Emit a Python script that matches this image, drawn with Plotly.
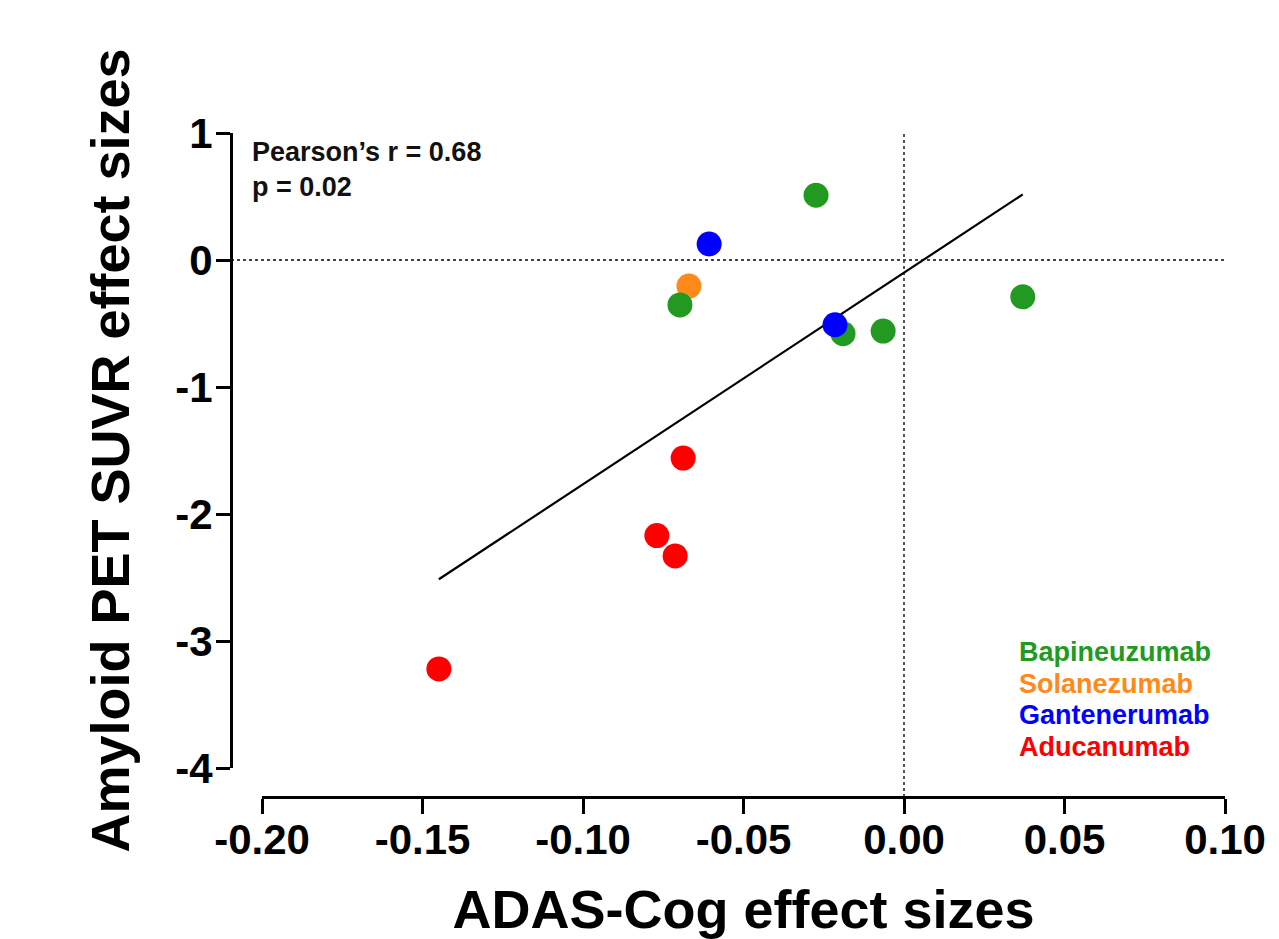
import numpy as np
import plotly.graph_objects as go

# ---- data ----
groups = ["Solanezumab", "Bapineuzumab", "Gantenerumab", "Aducanumab"]
legend_order = ["Bapineuzumab", "Solanezumab", "Gantenerumab", "Aducanumab"]
colors = {
    "Bapineuzumab": "#229a22",
    "Solanezumab": "#ff8a1a",
    "Gantenerumab": "#0000ff",
    "Aducanumab": "#ff0000",
}
bapi_x = [-0.0274, -0.0698, -0.0190, -0.0065, 0.0370]
bapi_y = [0.51, -0.354, -0.58, -0.56, -0.29]
sola_x = [-0.0670]
sola_y = [-0.205]
gant_x = [-0.0607, -0.0215]
gant_y = [0.126, -0.51]
aduc_x = [-0.0688, -0.0770, -0.0713, -0.1449]
aduc_y = [-1.56, -2.17, -2.33, -3.22]

series = {
    "Solanezumab": (sola_x, sola_y),
    "Bapineuzumab": (bapi_x, bapi_y),
    "Gantenerumab": (gant_x, gant_y),
    "Aducanumab": (aduc_x, aduc_y),
}

x_ticks = [-0.20, -0.15, -0.10, -0.05, 0.00, 0.05, 0.10]
x_ticklabels = ["-0.20", "-0.15", "-0.10", "-0.05", "0.00", "0.05", "0.10"]
y_ticks = [-4, -3, -2, -1, 0, 1]
y_ticklabels = ["-4", "-3", "-2", "-1", "0", "1"]

stat_lines = ["Pearson\u2019s r = 0.68", "p = 0.02"]

x_title = "ADAS-Cog effect sizes"
y_title = "Amyloid PET SUVR effect sizes"

# ---- regression line from the data ----
all_x = np.array(sum([series[g][0] for g in groups], []))
all_y = np.array(sum([series[g][1] for g in groups], []))
slope, intercept = np.polyfit(all_x, all_y, 1)
fit_x = np.array([all_x.min(), all_x.max()])
fit_y = slope * fit_x + intercept

FONT = "Liberation Sans, Arial, sans-serif"

fig = go.Figure()

fig.add_trace(go.Scatter(
    x=fit_x, y=fit_y, mode="lines",
    line=dict(color="black", width=2.2),
    showlegend=False, hoverinfo="skip",
))

for g in groups:
    xs, ys = series[g]
    fig.add_trace(go.Scatter(
        x=xs, y=ys, mode="markers", name=g,
        marker=dict(size=25, color=colors[g], line=dict(width=0)),
        showlegend=False,
    ))

# dotted zero lines
fig.add_shape(type="line", xref="paper", yref="y", x0=0, x1=1, y0=0, y1=0,
              line=dict(color="#444444", width=1.8, dash="dot"), layer="below")
fig.add_shape(type="line", xref="x", yref="paper", x0=0, x1=0, y0=0, y1=1,
              line=dict(color="#444444", width=1.8, dash="dot"), layer="below")

# page offset of the plot (browser body margin is 8px)
OFF = 8
W, H = 1271, 931
L, T = 231 - OFF, 133 - OFF
R = W - (1225 - OFF)
B = H - (797 - OFF)
pw = W - L - R
ph = H - T - B

# stats text
stat_px = [152, 187]
for txt, py in zip(stat_lines, stat_px):
    fig.add_annotation(
        text=txt, xref="paper", yref="paper", x=(250 - 231) / pw,
        y=(797 - py) / ph,
        xanchor="left", yanchor="middle", showarrow=False,
        font=dict(family=FONT, size=27, color="#111111", weight="bold"),
    )

# colored text legend
for i, g in enumerate(legend_order):
    py = 652 + i * 31.7
    fig.add_annotation(
        text=g, xref="paper", yref="paper", x=(1017 - 231) / pw,
        y=(797 - py) / ph,
        xanchor="left", yanchor="middle", showarrow=False,
        font=dict(family=FONT, size=27, color=colors[g], weight="bold"),
    )

fig.update_layout(
    width=W, height=H,
    margin=dict(l=L, r=R, t=T, b=B, autoexpand=False),
    paper_bgcolor="white", plot_bgcolor="white",
    showlegend=False,
    xaxis=dict(
        range=[-0.20, 0.10], domain=[(262 - 231) / pw, 1],
        anchor="free", position=0,
        tickvals=x_ticks, ticktext=x_ticklabels,
        showline=True, linecolor="black", linewidth=3,
        ticks="outside", ticklen=15, tickwidth=3, tickcolor="black",
        ticklabelstandoff=-10,
        showgrid=False, zeroline=False,
        tickfont=dict(family=FONT, size=42, color="black", weight="bold"),
        title=dict(text=x_title, standoff=30,
                   font=dict(family=FONT, size=54, color="black", weight="bold")),
    ),
    yaxis=dict(
        range=[-4, 1], domain=[(797 - 768) / ph, 1],
        anchor="free", position=0,
        tickvals=y_ticks, ticktext=y_ticklabels,
        showline=True, linecolor="black", linewidth=3,
        ticks="outside", ticklen=14, tickwidth=3, tickcolor="black",
        ticklabelstandoff=-5,
        showgrid=False, zeroline=False,
        tickfont=dict(family=FONT, size=42, color="black", weight="bold"),
        title=dict(text=y_title, standoff=27,
                   font=dict(family=FONT, size=54, color="black", weight="bold")),
    ),
)

fig.write_html("out.html")
